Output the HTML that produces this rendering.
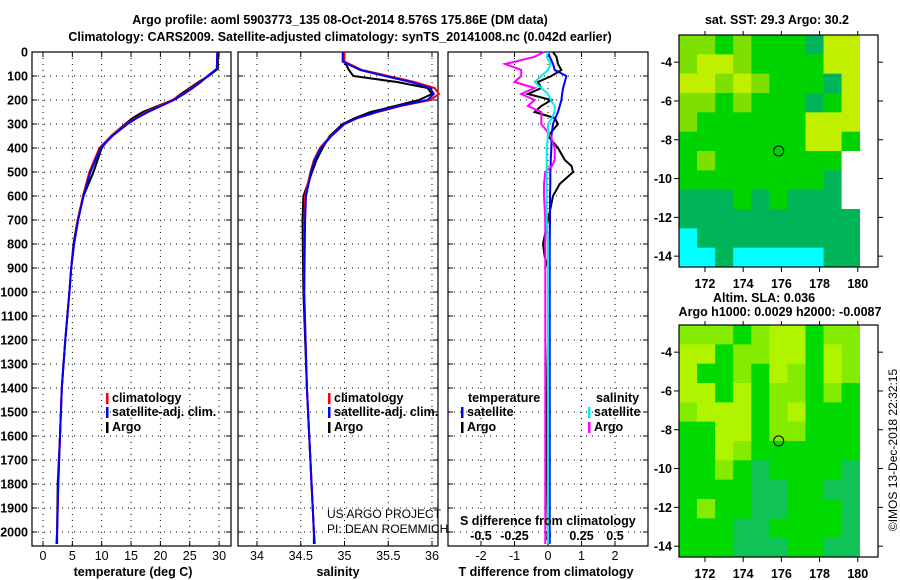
<!DOCTYPE html>
<html><head><meta charset="utf-8"><style>
body{margin:0;background:#fff;}
svg{display:block;font-family:"Liberation Sans",sans-serif;}
.b{font-weight:bold;font-size:12.5px;}
</style></head><body>
<svg id="c" width="900" height="580" xmlns="http://www.w3.org/2000/svg">
<g id="g"></g>
</svg>
<script>
// ---- data ----
const depthT = [0,70,100,125,150,175,200,225,250,275,300,350,400,500,600,700,800,900,1000,1200,1400,1600,1800,2000,2050];
const tempClim = [29.7,29.6,28.0,26.8,25.3,23.8,22.0,19.8,17.6,15.8,14.2,11.6,9.6,7.9,6.8,5.9,5.3,4.8,4.5,3.8,3.2,2.9,2.6,2.4,2.3];
const tempSat = [29.7,29.6,28.1,26.9,25.5,24.0,22.3,20.1,17.9,16.0,14.4,11.8,9.8,8.1,6.9,6.0,5.3,4.8,4.5,3.8,3.2,2.9,2.6,2.4,2.3];
const tempArgo = [29.8,29.8,28.2,26.5,25.0,23.5,22.1,19.5,17.0,15.3,14.0,11.6,10.0,8.6,6.9,5.9,5.2,4.8,4.5,3.8,3.2,2.9,2.5,2.4,2.4];
const depthS = [0,40,75,100,125,150,175,200,225,250,275,300,350,400,450,500,600,700,1000,1400,2000,2050];
const salClim = [35.0,35.0,35.2,35.5,35.8,36.03,36.08,35.98,35.64,35.38,35.15,35.0,34.84,34.72,34.65,34.61,34.55,34.54,34.54,34.57,34.65,34.66];
const salSat = [34.98,34.98,35.18,35.46,35.76,35.98,36.02,35.95,35.62,35.36,35.15,35.0,34.85,34.73,34.66,34.62,34.56,34.55,34.54,34.57,34.65,34.66];
const salArgo = [35.0,35.0,35.05,35.1,35.6,35.95,36.0,35.85,35.58,35.3,35.12,34.98,34.83,34.75,34.68,34.63,34.53,34.52,34.53,34.57,34.65,34.65];
const depthD = [0,20,50,75,100,125,150,175,200,225,250,275,300,350,400,450,475,500,550,600,700,800,850,900,1200,1600,2000,2050];
const tDiffSat = [0,0.05,0.15,0.2,0.55,0.5,0.45,0.42,0.4,0.35,0.3,0.22,0.15,0.1,0.1,0.08,0.08,0.07,0.07,0.06,0.06,0.05,0.05,0.05,0.05,0.05,0.05,0.05];
const tDiffArgo = [0.15,0.25,0.3,0.4,0.1,-0.3,-0.2,-0.6,0.1,-0.2,-0.4,0.2,0.3,0.0,0.3,0.5,0.7,0.75,0.35,0.15,0.0,-0.15,-0.1,0.0,0.0,-0.05,0.0,0.0];
const sDiffSat = [0,-0.01,0.02,0.0,-0.05,-0.1,-0.05,0.0,0.02,0.05,0.05,0.03,0.0,0.0,-0.01,-0.01,-0.01,-0.01,-0.01,-0.01,-0.01,0,0,0,0,0,0,0];
const sDiffArgo = [-0.03,-0.1,-0.32,-0.2,-0.2,-0.25,-0.1,-0.2,-0.1,-0.15,-0.05,-0.05,-0.05,0.02,0.05,0.05,0.03,-0.02,-0.03,-0.03,-0.02,-0.02,-0.02,-0.02,-0.02,-0.02,-0.02,-0.02];
const depthTicks = [0,100,200,300,400,500,600,700,800,900,1000,1100,1200,1300,1400,1500,1600,1700,1800,1900,2000];
const tempTicks = [0,5,10,15,20,25,30];
const salTicks = [34,34.5,35,35.5,36];
const tDiffTicks = [-2,-1,0,1,2];
const sDiffTicks = [-0.5,-0.25,0,0.25,0.5];
const sstGrid = ["LLGLGGGTYY","LYYLGGGGYY","YYLYLGGGTY","LLGLGGGTGY","LGGGGGGYYY","GGGGGGGYYG","GLGGGGGGGW","GGGGGGGGTW","TTTGTGTTTW","TTTTTTTTTT","CTTTTTTTTT","CCTCCCCCTT"];
const slaGrid = ["LLLGLYYGLL","YYGLLYYGYL","YGGLGYLGYL","YYGYGLLGLG","LYYYGLYGGG","GGYYGLLGGG","GGYLGGGGGG","GGLGTGGGGT","GGGGTTGGTT","GLGGTTGGGT","GGGTTGGGGT","GGGTTTGGTT"];
const lonTicks = [172,174,176,178,180];
const latTicks = [-4,-6,-8,-10,-12,-14];
const argoLon = 175.86, argoLat = -8.576;

const NS="http://www.w3.org/2000/svg";
const G=document.getElementById('g');
function el(t,a,p){const e=document.createElementNS(NS,t);for(const k in a)e.setAttribute(k,a[k]);(p||G).appendChild(e);return e;}
function txt(x,y,s,cls,anchor,extra){const e=el('text',Object.assign({x:x,y:y,'text-anchor':anchor||'start'},extra||{}));if(cls)e.setAttribute('class',cls);e.textContent=s;return e;}

const Y0=52, YB=546;
const yD=d=>Y0+d*0.24;
const xT=v=>43+v*5.87;
const xS=v=>257+(v-34)*87.5;
const xTD=v=>548+v*33.5;
const xSD=v=>548+v*134;

function panel(x0,x1,name,xticks,xf){
  const f=el('rect',{x:x0,y:Y0,width:x1-x0,height:YB-Y0,fill:'none',stroke:'#000','stroke-width':1.2});
  
  depthTicks.forEach(d=>{const y=yD(d);
    el('line',{x1:x0,x2:x1,y1:y,y2:y,stroke:'#000','stroke-dasharray':'1,5','stroke-width':1});
    el('line',{x1:x0,x2:x0+5,y1:y,y2:y,stroke:'#000'});el('line',{x1:x1-5,x2:x1,y1:y,y2:y,stroke:'#000'});});
  xticks.forEach(v=>{const x=xf(v);
    el('line',{x1:x,x2:x,y1:Y0,y2:YB,stroke:'#000','stroke-dasharray':'1,5'});
    el('line',{x1:x,x2:x,y1:YB-5,y2:YB,stroke:'#000'});el('line',{x1:x,x2:x,y1:Y0,y2:Y0+5,stroke:'#000'});});
}
function line(xs,ds,xf,color,name,w){
  const pts=xs.map((v,i)=>xf(v).toFixed(1)+','+yD(ds[i]).toFixed(1)).join(' ');
  const p=el('polyline',{points:pts,fill:'none',stroke:color,'stroke-width':w||2});
  
}
panel(32,231,'temperature-panel',tempTicks,xT);
panel(238,438,'salinity-panel',salTicks,xS);
panel(448,648,'difference-panel',tDiffTicks,xTD);
depthTicks.forEach(d=>{const t=txt(28,yD(d)+4.5,String(d),'b','end');});
tempTicks.forEach(v=>{const t=txt(xT(v),560,String(v),null,'middle',{'font-size':12.5});});
salTicks.forEach(v=>{const t=txt(xS(v),560,String(v),null,'middle',{'font-size':12.5});});
tDiffTicks.forEach(v=>{const t=txt(xTD(v),560,String(v),null,'middle',{'font-size':12.5});});
sDiffTicks.forEach(v=>{const t=txt(xSD(v),540,String(v),'b','middle');});
line(tempArgo,depthT,xT,'#000','temp-argo-line',2);
line(tempClim,depthT,xT,'#f00','temp-clim-line',2);
line(tempSat,depthT,xT,'#00f','temp-sat-line',2);
line(salArgo,depthS,xS,'#000','sal-argo-line',2);
line(salClim,depthS,xS,'#f00','sal-clim-line',2);
line(salSat,depthS,xS,'#00f','sal-sat-line',2);
line(tDiffArgo,depthD,xTD,'#000','tdiff-argo-line',2);
line(tDiffSat,depthD,xTD,'#00f','tdiff-sat-line',2);
line(sDiffArgo,depthD,xSD,'#f0f','sdiff-argo-line',2);
line(sDiffSat,depthD,xSD,'#0ee','sdiff-sat-line',2);
function leg(x,y,c,s,name){el('rect',{x:x,y:y-9,width:2.5,height:11,fill:c});const t=txt(x+6,y,s,'b');}
leg(106,402,'#f00','climatology','legend-climatology');
leg(106,416,'#00f','satellite-adj. clim.','legend-satellite');
leg(106,431,'#000','Argo','legend-argo');
leg(328,402,'#f00','climatology','legend2-climatology');
leg(328,416,'#00f','satellite-adj. clim.','legend2-satellite');
leg(328,431,'#000','Argo','legend2-argo');
txt(468,402,'temperature','b');txt(596,402,'salinity','b');
leg(461,416,'#00f','satellite','legend-t-satellite');
leg(461,431,'#000','Argo','legend-t-argo');
leg(588,416,'#0ee','satellite','legend-s-satellite');
leg(588,431,'#f0f','Argo','legend-s-argo');
txt(460,525,'S difference from climatology','b');
txt(327,518,'US ARGO PROJECT',null,'start',{'font-size':12});
txt(327,533,'PI: DEAN ROEMMICH',null,'start',{'font-size':12});
txt(133,576,'temperature (deg C)','b','middle');
txt(338,576,'salinity','b','middle');
txt(546,576,'T difference from climatology','b','middle');
txt(340,24,'Argo profile: aoml 5903773_135 08-Oct-2014 8.576S 175.86E (DM data)','b','middle',{'font-size':13.5});
txt(340,41,'Climatology: CARS2009. Satellite-adjusted climatology: synTS_20141008.nc (0.042d earlier)','b','middle',{'font-size':13.5});

const colSST={L:'#7ee000',Y:'#c0f000',G:'#00d400',T:'#00b45a',C:'#00ffff',W:'#ffffff'};
const colSLA={L:'#84ec00',Y:'#b0f400',G:'#00da00',T:'#10c458',W:'#fff'};
function map(top,grid,cols,name){
  const L0=170.64,T0=-2.6,T1=-14.56;
  const xm=l=>679+(l-L0)*19.1, ym=a=>top+(T0-a)*19.4;
  const lonEdge=180.1, cw=(lonEdge-L0)/10, rh=(T0-T1)/12;
  grid.forEach((row,r)=>{[...row].forEach((ch,c)=>{
    const x=xm(L0+c*cw), y=ym(T0-r*rh);
    const cell=el('rect',{x:x,y:y,width:xm(L0+(c+1)*cw)-x+0.3,height:ym(T0-(r+1)*rh)-y+0.3,fill:cols[ch]});
    });});
  const f=el('rect',{x:679,y:top,width:199,height:232,fill:'none',stroke:'#000','stroke-width':1.2});
  
  lonTicks.forEach(l=>{const x=xm(l);el('line',{x1:x,x2:x,y1:top+232,y2:top+237,stroke:'#000'});el('line',{x1:x,x2:x,y1:top,y2:top-4,stroke:'#000'});
    txt(x,top+253,String(l),'b','middle');});
  latTicks.forEach(a=>{const y=ym(a);el('line',{x1:674,x2:679,y1:y,y2:y,stroke:'#000'});el('line',{x1:878,x2:883,y1:y,y2:y,stroke:'#000'});
    txt(672,y+4.5,String(a),'b','end');});
  const c=el('circle',{cx:xm(argoLon),cy:ym(argoLat),r:5,fill:'none',stroke:'#000','stroke-width':1});
  
}
map(35,sstGrid,colSST,'sst-map');
map(325,slaGrid,colSLA,'sla-map');
txt(777,24,'sat. SST: 29.3 Argo: 30.2','b','middle');
txt(764,302,'Altim. SLA: 0.036','b','middle');
txt(780,316,'Argo h1000: 0.0029 h2000: -0.0087','b','middle');
txt(0,0,'©IMOS 13-Dec-2018 22:32:15',null,'middle',{'font-size':12,transform:'translate(897,450) rotate(-90)'});
</script>
</body></html>
